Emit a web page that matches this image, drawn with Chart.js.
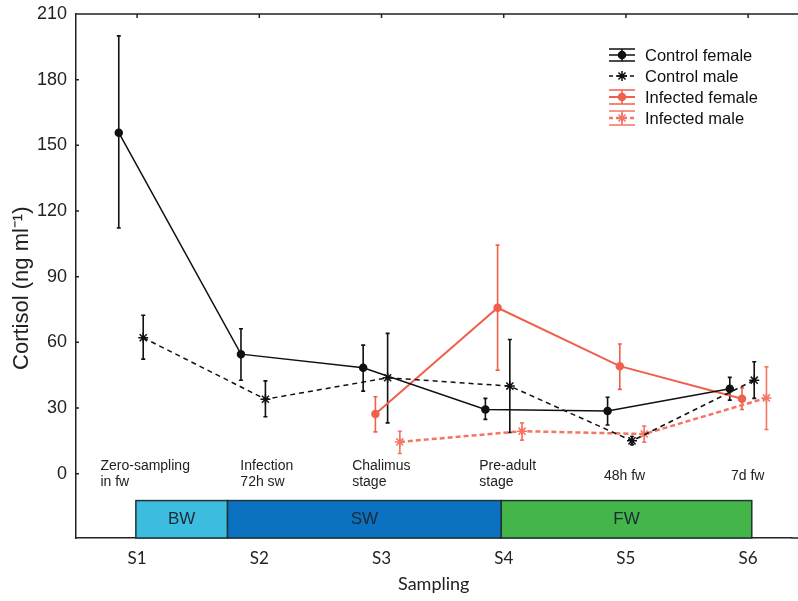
<!DOCTYPE html>
<html lang="en">
<head>
<meta charset="UTF-8">
<title>Cortisol by sampling</title>
<script src="https://cdn.jsdelivr.net/npm/chart.js"></script>
<style>
  body { margin: 0; background: #fff; }
  #wrap { width: 798px; height: 601px; }
</style>
</head>
<body>
<div id="wrap"><canvas id="myChart"></canvas></div>
<script>
const categories = ['S1', 'S2', 'S3', 'S4', 'S5', 'S6'];
const yTicks = [0, 30, 60, 90, 120, 150, 180, 210];

const controlFemale     = [155.8, 54.6, 48.4, 29.3, 28.6, 38.8];
const controlFemaleLow  = [112.2, 42.7, 37.7, 24.8, 22.2, 33.6];
const controlFemaleHigh = [200.0, 66.2, 58.7, 34.4, 34.9, 44.0];

const controlMale     = [62.1, 34.0, 43.8, 40.0, 15.0, 42.7];
const controlMaleLow  = [52.3, 26.0, 23.2, 18.8, 13.2, 34.4];
const controlMaleHigh = [72.4, 42.4, 64.1, 61.3, 17.0, 51.1];

const infectedFemale     = [null, null, 27.3, 75.8, 49.1, 34.2];
const infectedFemaleLow  = [null, null, 19.1, 47.3, 38.5, 29.3];
const infectedFemaleHigh = [null, null, 35.1, 104.4, 59.2, 39.2];

const infectedMale     = [null, null, 14.5, 19.4, 18.1, 34.6];
const infectedMaleLow  = [null, null, 9.2, 15.3, 14.4, 20.2];
const infectedMaleHigh = [null, null, 19.4, 23.2, 21.7, 48.8];

const stages = ['BW', 'SW', 'FW'];
const stageFrom = [0.99, 1.74, 3.98];
const stageTo = [1.74, 3.98, 6.03];

const stageNotes = [['Zero-sampling', 'in fw'], ['Infection', '72h sw'], ['Chalimus', 'stage'],
                    ['Pre-adult', 'stage'], ['48h fw'], ['7d fw']];

// layout / style
const Y_MIN = -29.4, Y_MAX = 210, X_MIN = 0.5, X_MAX = 6.355;
const STAGE_TOP = -12.3;
const noteX = [0.70, 1.845, 2.76, 3.80, 4.82, 5.86];
const stageColors = ['#3cbde0', '#0a72c0', '#44b549'];
const RED = '#f0604c';

const series = [
  { label: 'Control female', values: controlFemale, low: controlFemaleLow, high: controlFemaleHigh,
    offset: -0.15, color: '#111', dash: [], width: 1.5, point: 'circle', radius: 3.5 },
  { label: 'Control male', values: controlMale, low: controlMaleLow, high: controlMaleHigh,
    offset: 0.05, color: '#111', dash: [5, 4], width: 1.5, point: 'star', radius: 5 },
  { label: 'Infected female', values: infectedFemale, low: infectedFemaleLow, high: infectedFemaleHigh,
    offset: -0.05, color: RED, dash: [], width: 2, point: 'circle', radius: 3.5 },
  { label: 'Infected male', values: infectedMale, low: infectedMaleLow, high: infectedMaleHigh,
    offset: 0.15, color: '#f47563', dash: [5, 3], width: 2.5, point: 'star', radius: 5 }
];

const datasets = series.map(s => ({
  label: s.label,
  data: s.values.map((v, i) => v == null ? null : { x: i + 1 + s.offset, y: v }).filter(p => p),
  showLine: true,
  borderColor: s.color,
  backgroundColor: s.color,
  borderWidth: s.width,
  borderDash: s.dash,
  tension: 0,
  pointStyle: s.point,
  pointRadius: s.radius,
  pointBorderWidth: 1.5,
  pointBorderColor: s.color,
  pointBackgroundColor: s.color
}));

const stagePlugin = {
  id: 'stages',
  beforeDatasetsDraw(chart) {
    const { ctx, scales: { x, y } } = chart;
    const top = y.getPixelForValue(STAGE_TOP), bot = y.getPixelForValue(Y_MIN);
    ctx.save();
    stages.forEach((name, i) => {
      const l = x.getPixelForValue(stageFrom[i]), r = x.getPixelForValue(stageTo[i]);
      ctx.fillStyle = stageColors[i];
      ctx.fillRect(l, top, r - l, bot - top);
      ctx.strokeStyle = '#1d3535';
      ctx.lineWidth = 1.5;
      ctx.strokeRect(l, top, r - l, bot - top);
      ctx.fillStyle = '#1b2a38';
      ctx.font = '17px "Liberation Sans", Arial, sans-serif';
      ctx.textAlign = 'center';
      ctx.textBaseline = 'middle';
      ctx.fillText(name, (l + r) / 2, (top + bot) / 2);
    });
    // notes above the stage bar
    const zero = y.getPixelForValue(0);
    ctx.fillStyle = '#222';
    ctx.font = '14px "Liberation Sans", Arial, sans-serif';
    ctx.textAlign = 'left';
    stageNotes.forEach((lines, i) => {
      const px = x.getPixelForValue(noteX[i]);
      if (lines.length === 2) {
        ctx.fillText(lines[0], px, zero - 8);
        ctx.fillText(lines[1], px, zero + 8);
      } else {
        ctx.fillText(lines[0], px, zero + 2.5);
      }
    });
    ctx.restore();
  }
};

const errorBars = {
  id: 'errorBars',
  beforeDatasetsDraw(chart) {
    const { ctx, scales: { x, y } } = chart;
    series.forEach(s => {
      ctx.save();
      ctx.strokeStyle = s.color;
      ctx.lineWidth = 1.6;
      s.values.forEach((v, i) => {
        if (v == null) return;
        const px = x.getPixelForValue(i + 1 + s.offset);
        const t = y.getPixelForValue(s.high[i]), b = y.getPixelForValue(s.low[i]);
        ctx.beginPath();
        ctx.moveTo(px, t); ctx.lineTo(px, b);
        ctx.moveTo(px - 2, t); ctx.lineTo(px + 2, t);
        ctx.moveTo(px - 2, b); ctx.lineTo(px + 2, b);
        ctx.stroke();
      });
      ctx.restore();
    });
  }
};

// top border + inward ticks; the frame runs on past the right edge of the picture
const framePlugin = {
  id: 'frame',
  afterDraw(chart) {
    const { ctx, chartArea: a, scales: { x, y } } = chart;
    ctx.save();
    ctx.strokeStyle = '#222';
    ctx.lineWidth = 1.5;
    ctx.beginPath();
    ctx.moveTo(a.left, a.top); ctx.lineTo(chart.width, a.top);
    ctx.moveTo(a.right, a.bottom); ctx.lineTo(chart.width, a.bottom);
    categories.forEach((c, i) => {
      const px = x.getPixelForValue(i + 1);
      ctx.moveTo(px, a.top); ctx.lineTo(px, a.top + 4);
    });
    yTicks.forEach(v => {
      const py = y.getPixelForValue(v);
      ctx.moveTo(a.left, py); ctx.lineTo(a.left + 3, py);
    });
    ctx.stroke();
    ctx.restore();
  }
};

const legendPlugin = {
  id: 'legendBox',
  afterDraw(chart) {
    const { ctx } = chart;
    const rows = [55, 76, 97, 118];
    const caps = [[-6, 6], [], [-7, 7], [-7, 7]];
    const x0 = 609, x1 = 635, cx = 622;
    ctx.save();
    series.forEach((s, i) => {
      const cy = rows[i];
      ctx.strokeStyle = s.color;
      ctx.lineWidth = 1.6;
      ctx.setLineDash([]);
      ctx.beginPath();
      caps[i].forEach(d => { ctx.moveTo(x0, cy + d); ctx.lineTo(x1, cy + d); });
      if (caps[i].length) { ctx.moveTo(cx, cy + caps[i][0]); ctx.lineTo(cx, cy + caps[i][1]); }
      ctx.stroke();
      ctx.lineWidth = s.width;
      ctx.setLineDash(s.dash.length ? [4, 3] : []);
      ctx.beginPath();
      ctx.moveTo(x0, cy); ctx.lineTo(x1, cy);
      ctx.stroke();
      ctx.setLineDash([]);
      ctx.lineWidth = 1.5;
      ctx.fillStyle = s.color;
      Chart.helpers.drawPoint(ctx, { pointStyle: s.point, radius: s.radius, borderWidth: 1.5 }, cx, cy);
      ctx.fillStyle = '#111';
      ctx.font = '16.5px "Liberation Sans", Arial, sans-serif';
      ctx.textAlign = 'left';
      ctx.textBaseline = 'middle';
      ctx.fillText(s.label, 645, cy + 1);
    });
    ctx.restore();
  }
};

const ctx = document.getElementById('myChart').getContext('2d');
const myChart = new Chart(ctx, {
  type: 'scatter',
  data: { datasets: datasets },
  plugins: [stagePlugin, errorBars, framePlugin, legendPlugin],
  options: {
    responsive: true,
    maintainAspectRatio: false,
    animation: false,
    layout: { padding: { top: 14, right: 0, left: 0, bottom: 0 } },
    plugins: { legend: { display: false }, tooltip: { enabled: false } },
    scales: {
      x: {
        type: 'linear',
        min: X_MIN,
        max: X_MAX,
        afterBuildTicks: scale => { scale.ticks = categories.map((c, i) => ({ value: i + 1 })); },
        afterFit: scale => { scale.height = 63; },
        ticks: {
          callback: v => categories[v - 1],
          color: '#222',
          padding: 10,
          maxRotation: 0,
          autoSkip: false,
          font: { family: 'Lato, "Liberation Sans", sans-serif', size: 17 }
        },
        grid: { display: false, drawTicks: false },
        border: { display: true, color: '#222', width: 1.5 },
        title: {
          display: true,
          text: 'Sampling',
          color: '#222',
          padding: { top: 0, bottom: 6 },
          font: { family: 'Lato, "Liberation Sans", sans-serif', size: 18 }
        }
      },
      y: {
        min: Y_MIN,
        max: Y_MAX,
        afterBuildTicks: scale => { scale.ticks = yTicks.map(v => ({ value: v })); },
        afterFit: scale => { scale.width = 76; scale.paddingTop = 0; scale.paddingBottom = 0; },
        ticks: {
          color: '#222',
          padding: 9,
          font: { family: '"Liberation Sans", Arial, sans-serif', size: 18 }
        },
        grid: { display: false, drawTicks: false },
        border: { display: true, color: '#222', width: 1.5 },
        title: {
          display: true,
          text: 'Cortisol (ng ml\u207B\u00B9)\u00A0\u00A0\u00A0\u00A0',
          color: '#222',
          padding: { top: 9, bottom: 0 },
          font: { family: '"Liberation Sans", Arial, sans-serif', size: 22 }
        }
      }
    }
  }
});
</script>
</body>
</html>
